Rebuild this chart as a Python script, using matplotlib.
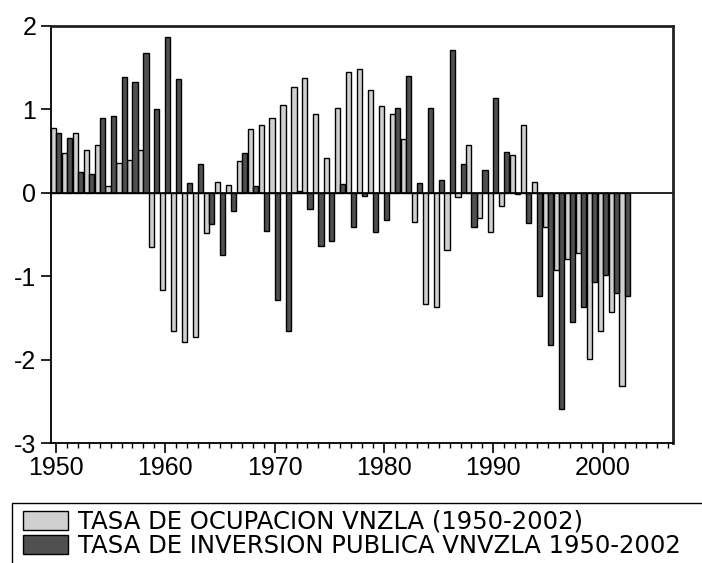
import numpy as np
import matplotlib
matplotlib.use("Agg")
import matplotlib.pyplot as plt
from matplotlib.patches import Patch, Rectangle
from matplotlib.ticker import MultipleLocator

plt.rcParams["font.family"] = ["Liberation Sans", "DejaVu Sans"]
plt.rcParams["axes.unicode_minus"] = False

years = np.arange(1950, 2003)

# tasa de ocupacion (light bars)
ocupacion = [
    0.77, 0.47, 0.71, 0.51, 0.57, 0.08, 0.36, 0.39, 0.51, -0.65,
    -1.16, -1.65, -1.79, -1.73, -0.48, 0.13, 0.09, 0.38, 0.76, 0.81,
    0.89, 1.05, 1.27, 1.37, 0.94, 0.42, 1.02, 1.44, 1.48, 1.23,
    1.04, 0.94, 0.64, -0.35, -1.33, -1.37, -0.69, -0.05, 0.57, -0.30,
    -0.47, -0.16, 0.45, 0.81, 0.13, -0.41, -0.93, -0.79, -0.72, -1.99,
    -1.65, -1.43, -2.31,
]

# tasa de inversion publica (dark bars)
inversion = [
    0.72, 0.66, 0.25, 0.23, 0.89, 0.92, 1.38, 1.33, 1.67, 1.00,
    1.87, 1.36, 0.12, 0.35, -0.38, -0.75, -0.22, 0.47, 0.08, -0.46,
    -1.28, -1.66, 0.02, -0.20, -0.64, -0.58, 0.10, -0.41, -0.04, -0.47,
    -0.33, 1.02, 1.40, 0.12, 1.02, 0.15, 1.71, 0.34, -0.41, 0.27,
    1.14, 0.49, -0.02, -0.36, -1.24, -1.82, -2.59, -1.55, -1.37, -1.07,
    -0.98, -1.20, -1.24,
]

labels = [
    "TASA DE OCUPACION VNZLA (1950-2002)",
    "TASA DE INVERSION PUBLICA VNVZLA 1950-2002",
]
light = "#d0d0d0"
dark = "#505050"

fig = plt.figure(figsize=(7.02, 5.63), dpi=100)
ax = fig.add_axes([51 / 702, 1 - 443.3 / 563, (672.7 - 51) / 702, (443.3 - 25.7) / 563])

w = 0.47
ax.bar(years - w / 2, ocupacion, width=w, color=light, edgecolor="black", linewidth=1.0)
ax.bar(years + w / 2, inversion, width=w, color=dark, edgecolor="black", linewidth=1.0)
ax.axhline(0, color="black", linewidth=1.2)

ax.set_xlim(1949.55, 2006.4)
ax.set_ylim(-3, 2)
ax.xaxis.set_major_locator(MultipleLocator(10))
ax.xaxis.set_minor_locator(MultipleLocator(1))
ax.yaxis.set_major_locator(MultipleLocator(1))

ax.tick_params(axis="both", which="major", direction="out", labelsize=18,
               width=1.2, color="black")
ax.tick_params(axis="x", which="major", length=7, pad=2)
ax.tick_params(axis="x", which="minor", direction="out", length=3.5, width=1.0)
ax.tick_params(axis="y", which="major", length=7.5, pad=3)

for side in ["left", "bottom"]:
    ax.spines[side].set_linewidth(1.3)
for side in ["top", "right"]:
    ax.spines[side].set_linewidth(2.0)
    ax.spines[side].set_color("#222222")

handles = [
    Patch(facecolor=light, edgecolor="black", linewidth=1.0),
    Patch(facecolor=dark, edgecolor="black", linewidth=1.0),
]
box_left = 12.3 / 702
box_top = 1 - 503.3 / 563
leg = fig.legend(handles, labels, loc="upper left",
                 bbox_to_anchor=(18 / 702, box_top - 1.5 / 563),
                 prop={"family": "DejaVu Sans", "size": 17.5},
                 frameon=False,
                 handlelength=1.85, handleheight=0.85, handletextpad=0.4,
                 borderpad=0.2, labelspacing=0.0, borderaxespad=0)

# legend box runs off the right and bottom edges, as in the original export
fig.add_artist(Rectangle((box_left, -0.1), 1.0, box_top + 0.1,
                         transform=fig.transFigure, fill=False,
                         edgecolor="black", linewidth=1.0))

fig.savefig("out.png", dpi=100)
